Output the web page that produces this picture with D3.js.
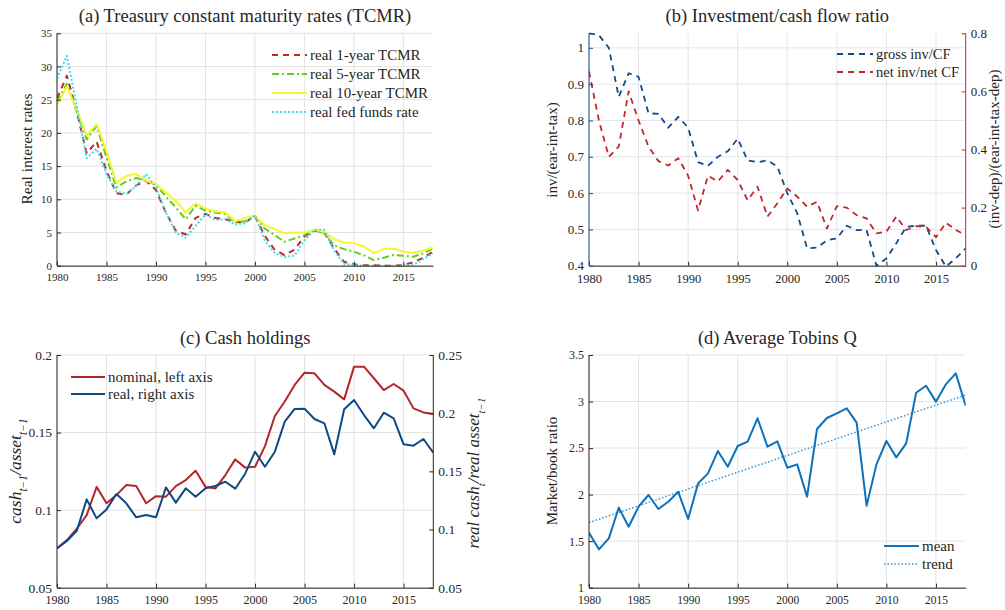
<!DOCTYPE html>
<html><head><meta charset="utf-8">
<script src="https://cdn.jsdelivr.net/npm/d3@7"></script>
<style>
body{margin:0;background:#fff}
svg{display:block}
text{font-family:"Liberation Serif","Times New Roman",serif;fill:#262626}
</style>
</head><body>
<svg id="chart" width="1005" height="610"></svg>
<script>
// ---------- data ----------
const years = d3.range(1980, 2019);
const xTickYears = [1980, 1985, 1990, 1995, 2000, 2005, 2010, 2015];

// (a) Treasury constant maturity rates
const real1yTCMR = [25.2, 28.6, 23.2, 16.9, 18.7, 14.3, 10.9, 10.7, 12.1, 12.8,
                    11.4, 8.0, 5.3, 4.7, 7.2, 7.8, 7.2, 7.0, 6.6, 6.5,
                    7.5, 4.5, 2.4, 1.6, 2.4, 4.4, 5.3, 5.0, 2.6, 0.6,
                    0.2, 0.1, 0.05, 0.0, 0.0, 0.1, 0.5, 1.2, 2.1];
const real5yTCMR = [24.7, 27.4, 23.2, 19.0, 21.0, 16.3, 11.8, 12.7, 13.2, 12.8,
                    12.2, 10.4, 8.8, 7.0, 9.0, 8.3, 8.0, 7.8, 6.5, 6.7,
                    7.5, 5.6, 4.6, 3.6, 4.1, 4.6, 5.4, 4.9, 3.1, 2.5,
                    2.1, 1.6, 0.85, 1.2, 1.6, 1.5, 1.35, 1.85, 2.6];
const real10yTCMR = [24.2, 27.0, 23.5, 19.6, 21.3, 17.3, 12.5, 13.5, 13.8, 12.8,
                     12.3, 11.0, 9.8, 8.0, 9.4, 8.6, 8.2, 8.0, 6.7, 7.2,
                     7.5, 6.1, 5.5, 4.9, 5.0, 5.0, 5.4, 5.1, 4.0, 3.5,
                     3.4, 2.9, 1.9, 2.5, 2.6, 2.1, 1.9, 2.3, 2.7];
const realFedFunds = [28.2, 31.6, 24.0, 16.2, 17.6, 13.8, 11.2, 10.8, 12.0, 13.8,
                      11.8, 8.0, 5.0, 4.2, 6.0, 7.7, 6.9, 7.0, 6.2, 6.4,
                      7.6, 3.8, 1.9, 1.3, 1.5, 3.8, 5.4, 5.4, 2.3, 0.3,
                      0.1, 0.0, 0.0, 0.0, 0.0, 0.0, 0.1, 1.0, 1.8];
const ratesTicks = [0, 5, 10, 15, 20, 25, 30, 35];

// (b) Investment / cash flow ratio
const grossInvCF = [1.04, 1.035, 1.0, 0.865, 0.93, 0.92, 0.82, 0.818, 0.78, 0.81,
                    0.78, 0.685, 0.675, 0.70, 0.715, 0.75, 0.69, 0.685, 0.69, 0.673,
                    0.60, 0.545, 0.448, 0.45, 0.47, 0.475, 0.51, 0.498, 0.498, 0.40,
                    0.42, 0.462, 0.507, 0.51, 0.51, 0.443, 0.398, 0.42, 0.448];
const netInvNetCF = [0.669, 0.50, 0.375, 0.41, 0.60, 0.50, 0.41, 0.36, 0.345, 0.37,
                     0.31, 0.19, 0.31, 0.29, 0.33, 0.295, 0.225, 0.272, 0.169, 0.215,
                     0.266, 0.238, 0.203, 0.22, 0.128, 0.205, 0.20, 0.174, 0.163, 0.111,
                     0.117, 0.169, 0.123, 0.136, 0.134, 0.098, 0.148, 0.123, 0.105];
const invLeftTicks = [0.4, 0.5, 0.6, 0.7, 0.8, 0.9, 1.0];
const invRightTicks = [0, 0.2, 0.4, 0.6, 0.8];

// (c) Cash holdings
const cashNominal = [0.0754, 0.0807, 0.088, 0.0968, 0.115, 0.1044, 0.1097, 0.1162, 0.1155, 0.1044,
                     0.109, 0.1087, 0.1155, 0.1194, 0.1254, 0.115, 0.114, 0.1226, 0.1327, 0.1274,
                     0.128, 0.1413, 0.1607, 0.170, 0.1807, 0.1886, 0.1882, 0.1807, 0.1764, 0.1714,
                     0.1925, 0.1925, 0.185, 0.1774, 0.1813, 0.177, 0.1656, 0.163, 0.162];
const cashReal = [0.0838, 0.0901, 0.099, 0.1259, 0.1096, 0.1173, 0.1305, 0.1225, 0.1105, 0.1125,
                  0.1105, 0.1362, 0.1231, 0.1354, 0.1282, 0.1354, 0.1374, 0.1411, 0.1351, 0.148,
                  0.1669, 0.154, 0.1669, 0.1927, 0.2036, 0.2039, 0.195, 0.1913, 0.1646, 0.2033,
                  0.2113, 0.1984, 0.187, 0.2004, 0.1956, 0.1732, 0.1721, 0.1778, 0.166];
const cashLeftTicks = [0.05, 0.1, 0.15, 0.2];
const cashRightTicks = [0.05, 0.1, 0.15, 0.2, 0.25];

// (d) Average Tobins Q
const tobinsQMean = [1.591, 1.412, 1.53, 1.86, 1.655, 1.87, 1.996, 1.845, 1.924, 2.03,
                     1.738, 2.12, 2.228, 2.468, 2.30, 2.522, 2.569, 2.82, 2.515, 2.572,
                     2.289, 2.325, 1.978, 2.705, 2.823, 2.873, 2.927, 2.773, 1.881, 2.325,
                     2.576, 2.40, 2.551, 3.095, 3.17, 2.999, 3.185, 3.303, 2.956];
const trendYears = [1980, 2018];
const trendValues = [1.70, 3.07];
const qTicks = [1, 1.5, 2, 2.5, 3, 3.5];

// ---------- drawing ----------
const svg = d3.select("#chart");
const fmt = d => String(+d.toFixed(2));
const GRID = "#e3e3e3";
const AX = "#262626";
const FONT = "Liberation Serif";
let clipId = 0;

function makePanel(o) {
  const g = svg.append("g");
  const x = d3.scaleLinear().domain([1980, 2018]).range([o.x0, o.x1]);
  const y = d3.scaleLinear().domain(o.yDomain).range([o.y1, o.y0]);
  g.append("g").selectAll("line").data(xTickYears).join("line")
    .attr("x1", d => x(d)).attr("x2", d => x(d)).attr("y1", o.y0).attr("y2", o.y1)
    .attr("stroke", o.grid || GRID).attr("stroke-width", 1);
  g.append("g").selectAll("line").data(o.yTicks).join("line")
    .attr("x1", o.x0).attr("x2", o.x1).attr("y1", d => y(d)).attr("y2", d => y(d))
    .attr("stroke", o.grid || GRID).attr("stroke-width", 1);
  const id = "clip" + (clipId++);
  svg.append("clipPath").attr("id", id).append("rect")
    .attr("x", o.x0).attr("y", o.y0 - 1).attr("width", o.x1 - o.x0).attr("height", o.y1 - o.y0 + 2);
  const lines = g.append("g").attr("clip-path", `url(#${id})`);
  const xa = g.append("g").attr("transform", `translate(0,${o.y1})`)
    .call(d3.axisBottom(x).tickValues(xTickYears).tickFormat(d3.format("d"))
      .tickSizeInner(-4).tickSizeOuter(0).tickPadding(8));
  xa.select(".domain").attr("stroke", AX);
  xa.selectAll(".tick line").attr("stroke", AX);
  xa.selectAll("text").attr("font-size", o.xFont).attr("fill", AX).style("font-family", FONT);
  const lc = o.leftColor || AX;
  const ya = g.append("g").attr("transform", `translate(${o.x0},0)`)
    .call(d3.axisLeft(y).tickValues(o.yTicks).tickFormat(fmt)
      .tickSizeInner(-4).tickSizeOuter(0).tickPadding(5));
  ya.select(".domain").attr("stroke", lc).attr("d", `M0,${o.y0}V${o.y1}`);
  ya.selectAll(".tick line").attr("stroke", lc);
  ya.selectAll("text").attr("font-size", o.yFont).attr("fill", lc).style("font-family", FONT);
  g.append("text").attr("x", (o.x0 + o.x1) / 2).attr("y", o.y0 - 11)
    .attr("text-anchor", "middle").attr("font-size", 18.5).text(o.title);
  return {g, x, y, lines};
}

function addRightAxis(p, o, domain, ticks, color, fontSize) {
  const y2 = d3.scaleLinear().domain(domain).range([o.y1, o.y0]);
  const ra = p.g.append("g").attr("transform", `translate(${o.x1},0)`)
    .call(d3.axisRight(y2).tickValues(ticks).tickFormat(fmt)
      .tickSizeInner(-4).tickSizeOuter(0).tickPadding(5));
  ra.select(".domain").attr("stroke", color).attr("d", `M0,${o.y0}V${o.y1}`);
  ra.selectAll(".tick line").attr("stroke", color);
  ra.selectAll("text").attr("font-size", fontSize).attr("fill", color).style("font-family", FONT);
  return y2;
}

function drawLine(p, xs, vals, yScale, style) {
  const line = d3.line().x((d, i) => p.x(xs[i])).y(d => yScale(d));
  p.lines.append("path").datum(vals).attr("d", line)
    .attr("fill", "none").attr("stroke", style.color).attr("stroke-width", style.width)
    .attr("stroke-dasharray", style.dash || null).attr("stroke-linejoin", "round");
}

function legend(g, x, y, rowH, items, lineLen, fs) {
  items.forEach((it, i) => {
    const yy = y + i * rowH;
    g.append("line").attr("x1", x).attr("x2", x + lineLen).attr("y1", yy).attr("y2", yy)
      .attr("stroke", it.color).attr("stroke-width", it.width).attr("stroke-dasharray", it.dash || null);
    g.append("text").attr("x", x + lineLen + 3).attr("y", yy + 4.8)
      .attr("font-size", fs).text(it.label);
  });
}

function yLabel(g, x, y, txt, color, size) {
  return g.append("text").attr("transform", `translate(${x},${y}) rotate(-90)`)
    .attr("text-anchor", "middle").attr("font-size", size).attr("fill", color).text(txt);
}

// ----- Panel (a) -----
const oA = {x0: 57, x1: 433, y0: 33.3, y1: 265.7, yDomain: [0, 35], yTicks: ratesTicks,
            title: "(a) Treasury constant maturity rates (TCMR)", xFont: 11, yFont: 11};
const pA = makePanel(oA);
const sA = [
  {vals: real1yTCMR, color: "#c0282e", width: 2, dash: "6,5", label: "real 1-year TCMR"},
  {vals: real5yTCMR, color: "#5fcf1f", width: 2, dash: "7,3,2,3", label: "real 5-year TCMR"},
  {vals: real10yTCMR, color: "#f6f52e", width: 2, dash: null, label: "real 10-year TCMR"},
  {vals: realFedFunds, color: "#3fdcf0", width: 2, dash: "2,2", label: "real fed funds rate"}
];
sA.forEach(s => drawLine(pA, years, s.vals, pA.y, s));
legend(pA.g, 272, 55, 19, sA, 35, 15);
yLabel(pA.g, 32, 149, "Real interest rates", AX, 15.5);

// ----- Panel (b) -----
const BLUE_B = "#134b87", RED_B = "#c1272d";
const oB = {x0: 589, x1: 965.7, y0: 33.3, y1: 265.7, yDomain: [0.4, 1.04], yTicks: invLeftTicks,
            title: "(b) Investment/cash flow ratio", leftColor: BLUE_B, grid: "#e2e6ec",
            xFont: 12.5, yFont: 13};
const pB = makePanel(oB);
const yB2 = addRightAxis(pB, oB, [0, 0.8], invRightTicks, RED_B, 13);
drawLine(pB, years, grossInvCF, pB.y, {color: BLUE_B, width: 1.8, dash: "6,5"});
drawLine(pB, years, netInvNetCF, yB2, {color: RED_B, width: 1.8, dash: "6,5"});
legend(pB.g, 837, 54, 18, [
  {color: BLUE_B, width: 1.8, dash: "6,5", label: "gross inv/CF"},
  {color: RED_B, width: 1.8, dash: "6,5", label: "net inv/net CF"}
], 36, 14.5);
yLabel(pB.g, 557, 150, "inv/(ear-int-tax)", BLUE_B, 15);
yLabel(pB.g, 999, 149, "(inv-dep)/(ear-int-tax-dep)", RED_B, 15);

// ----- Panel (c) -----
const RED_C = "#b5262c", BLUE_C = "#0d4a85";
const oC = {x0: 57, x1: 433.3, y0: 355, y1: 587.7, yDomain: [0.05, 0.2], yTicks: cashLeftTicks,
            title: "(c) Cash holdings", xFont: 12, yFont: 13.5};
const pC = makePanel(oC);
const yC2 = addRightAxis(pC, oC, [0.05, 0.25], cashRightTicks, AX, 13.5);
drawLine(pC, years, cashNominal, pC.y, {color: RED_C, width: 2});
drawLine(pC, years, cashReal, yC2, {color: BLUE_C, width: 2});
legend(pC.g, 71, 377, 17, [
  {color: RED_C, width: 2, label: "nominal, left axis"},
  {color: BLUE_C, width: 2, label: "real, right axis"}
], 34, 15);
(function () {
  const t = pC.g.append("text").attr("transform", "translate(21,471) rotate(-90)")
    .attr("text-anchor", "middle").attr("font-size", 17.5).attr("font-style", "italic");
  t.append("tspan").text("cash");
  t.append("tspan").attr("baseline-shift", "sub").attr("font-size", 11.5).text("t−1");
  t.append("tspan").text("/asset");
  t.append("tspan").attr("baseline-shift", "sub").attr("font-size", 11.5).text("t−1");
  const r = pC.g.append("text").attr("transform", "translate(479,473) rotate(-90)")
    .attr("text-anchor", "middle").attr("font-size", 17).attr("font-style", "italic");
  r.append("tspan").text("real cash");
  r.append("tspan").attr("baseline-shift", "sub").attr("font-size", 11).text("t");
  r.append("tspan").text("/real asset");
  r.append("tspan").attr("baseline-shift", "sub").attr("font-size", 11).text("t−1");
})();

// ----- Panel (d) -----
const BLUE_D = "#0b72bb", TREND_D = "#3a93d6";
const oD = {x0: 589, x1: 965.7, y0: 355, y1: 587.7, yDomain: [1, 3.5], yTicks: qTicks,
            title: "(d) Average Tobins Q", xFont: 11.5, yFont: 12};
const pD = makePanel(oD);
drawLine(pD, trendYears, trendValues, pD.y, {color: TREND_D, width: 1.5, dash: "1.5,2"});
drawLine(pD, years, tobinsQMean, pD.y, {color: BLUE_D, width: 2});
legend(pD.g, 884, 546, 18, [
  {color: BLUE_D, width: 2, label: "mean"},
  {color: TREND_D, width: 1.5, dash: "1.5,2", label: "trend"}
], 35, 15);
yLabel(pD.g, 557, 471, "Market/book ratio", AX, 15);
</script>
</body></html>
